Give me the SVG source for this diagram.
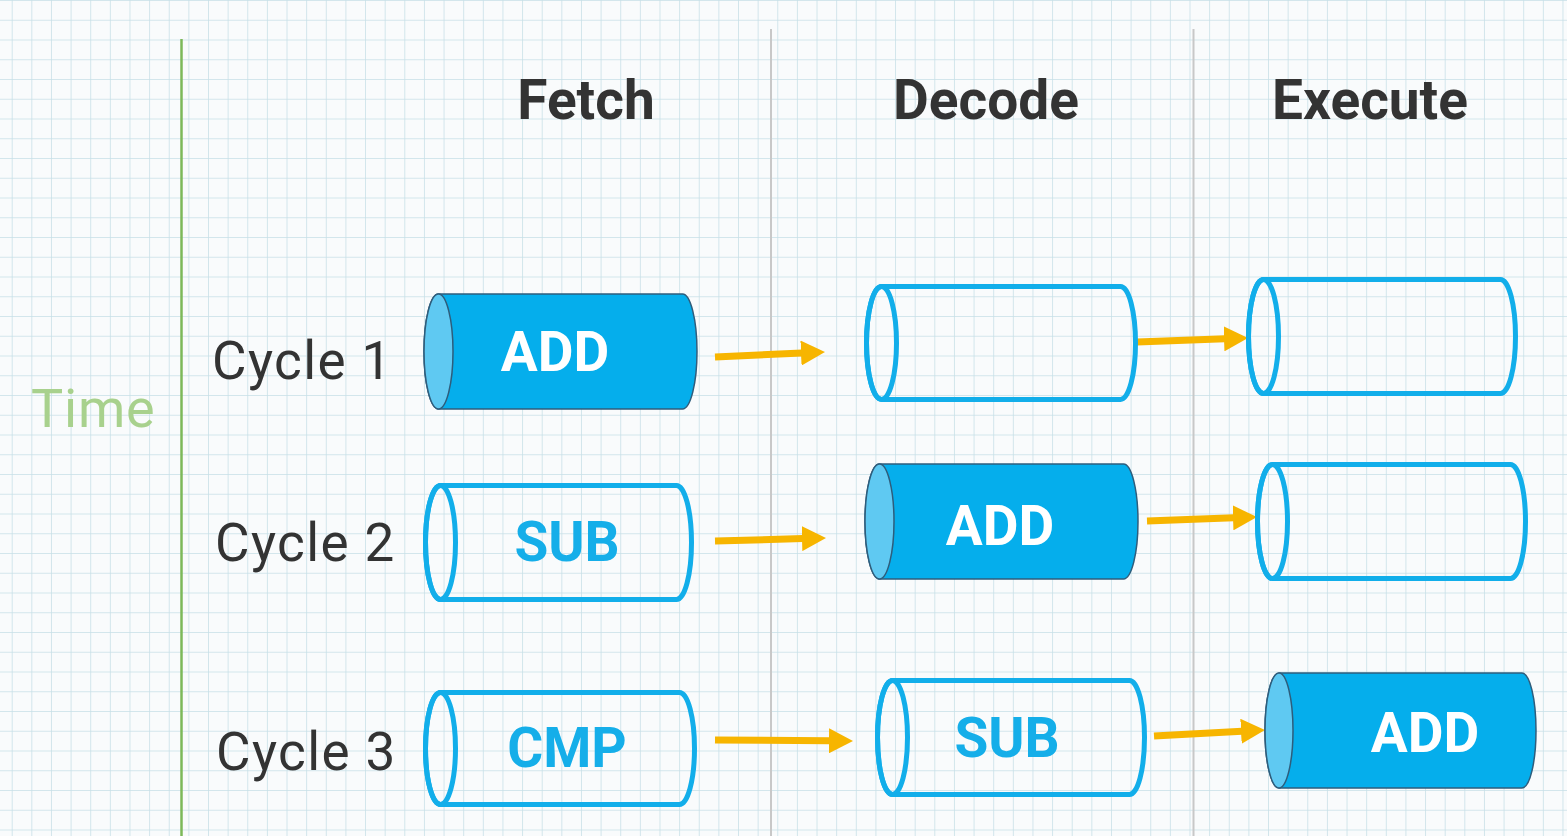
<svg xmlns="http://www.w3.org/2000/svg" width="1567" height="836" viewBox="0 0 1567 836">
<defs>
<pattern id="grid" x="11.7" y="0" width="19.63" height="19.75" patternUnits="userSpaceOnUse">
<path d="M0,0 V19.75 M0,0 H19.63" fill="none" stroke="#c6dfe7" stroke-width="1.5"/>
</pattern>
<marker id="ah" viewBox="0 0 24 25" refX="1" refY="12.5" markerWidth="24" markerHeight="25" markerUnits="userSpaceOnUse" orient="auto">
<path d="M0,0 L24,12.5 L0,25 Z" fill="#f7b500"/>
</marker>
<style>
.hdr{font-family:Roboto,"Liberation Sans",sans-serif;font-weight:700;font-size:55px;fill:#333;text-anchor:middle}
.cyc{font-family:Roboto,"Liberation Sans",sans-serif;font-size:53px;letter-spacing:1.4px;fill:#333}
.time{font-family:Roboto,"Liberation Sans",sans-serif;font-size:54px;letter-spacing:0.8px;fill:#a8d18d}
.fillbody{fill:#05aeec;stroke:#2e5d7c;stroke-width:1.5}
.fillface{fill:#5fc9f2;stroke:#2e5d7c;stroke-width:1.5}
.outl{fill:none;stroke:#12aeea;stroke-width:5;stroke-linejoin:round}
.wt{font-family:Roboto,"Liberation Sans",sans-serif;font-weight:700;font-size:55px;fill:#fff;text-anchor:middle}
.bt{font-family:Roboto,"Liberation Sans",sans-serif;font-weight:700;font-size:55px;fill:#15aee9;text-anchor:middle}
.arr{stroke:#f7b500;stroke-width:7;fill:none;marker-end:url(#ah)}
</style>
</defs>
<rect width="1567" height="836" fill="#f9fbfc"/>
<rect width="1567" height="836" fill="url(#grid)"/>
<g id="axes">
<line x1="181.5" y1="39" x2="181.5" y2="836" stroke="#7cb95a" stroke-width="2.5"/>
<line x1="771" y1="29" x2="771" y2="836" stroke="#c8c8c8" stroke-width="2"/>
<line x1="1193.5" y1="29" x2="1193.5" y2="836" stroke="#c8c8c8" stroke-width="2"/>
</g>
<g id="headers">
<text class="hdr" x="586" y="119">Fetch</text>
<text class="hdr" x="986" y="119">Decode</text>
<text class="hdr" x="1370" y="119">Execute</text>
</g>
<g id="labels">
<text class="time" x="31" y="427">Time</text>
<text class="cyc" x="212" y="379">Cycle 1</text>
<text class="cyc" x="215" y="561">Cycle 2</text>
<text class="cyc" x="216" y="770">Cycle 3</text>
</g>
<g id="connectors">
<line class="arr" x1="715" y1="357" x2="802" y2="353"/>
<line class="arr" x1="1137" y1="342" x2="1225" y2="338.8"/>
<line class="arr" x1="715" y1="541" x2="803" y2="538.6"/>
<line class="arr" x1="1147" y1="521" x2="1234" y2="517.8"/>
<line class="arr" x1="715" y1="740" x2="830" y2="740.8"/>
<line class="arr" x1="1154" y1="736" x2="1242" y2="731.2"/>
</g>
<g id="c1-fetch">
<path class="fillbody" d="M438.5,294 H682.5 A14.5,57.5 0 0 1 682.5,409 H438.5 A14.5,57.5 0 0 1 438.5,294 Z"/>
<ellipse class="fillface" cx="438.5" cy="351.5" rx="14.5" ry="57.5"/>
<text class="wt" x="555" y="371">ADD</text>
</g>
<g id="c1-decode">
<path class="outl" d="M881.5,286.5 H1120.5 A15,56.5 0 0 1 1120.5,399.5 H881.5 A15,56.5 0 0 1 881.5,286.5 Z"/>
<ellipse class="outl" cx="881.5" cy="343" rx="15" ry="56.5"/>
</g>
<g id="c1-execute">
<path class="outl" d="M1263.5,279.5 H1500.5 A15,57 0 0 1 1500.5,393.5 H1263.5 A15,57 0 0 1 1263.5,279.5 Z"/>
<ellipse class="outl" cx="1263.5" cy="336.5" rx="15" ry="57"/>
</g>
<g id="c2-fetch">
<path class="outl" d="M440.5,485.5 H676.5 A15,57 0 0 1 676.5,599.5 H440.5 A15,57 0 0 1 440.5,485.5 Z"/>
<ellipse class="outl" cx="440.5" cy="542.5" rx="15" ry="57"/>
<text class="bt" x="567" y="561">SUB</text>
</g>
<g id="c2-decode">
<path class="fillbody" d="M879.5,464 H1123.5 A14.5,57.5 0 0 1 1123.5,579 H879.5 A14.5,57.5 0 0 1 879.5,464 Z"/>
<ellipse class="fillface" cx="879.5" cy="521.5" rx="14.5" ry="57.5"/>
<text class="wt" x="1000" y="545">ADD</text>
</g>
<g id="c2-execute">
<path class="outl" d="M1272.5,464.5 H1510.5 A15,57 0 0 1 1510.5,578.5 H1272.5 A15,57 0 0 1 1272.5,464.5 Z"/>
<ellipse class="outl" cx="1272.5" cy="521.5" rx="15" ry="57"/>
</g>
<g id="c3-fetch">
<path class="outl" d="M440.5,692.5 H679.5 A15,56 0 0 1 679.5,804.5 H440.5 A15,56 0 0 1 440.5,692.5 Z"/>
<ellipse class="outl" cx="440.5" cy="748.5" rx="15" ry="56"/>
<text class="bt" x="567" y="767">CMP</text>
</g>
<g id="c3-decode">
<path class="outl" d="M892.5,680.5 H1129.5 A15,57 0 0 1 1129.5,794.5 H892.5 A15,57 0 0 1 892.5,680.5 Z"/>
<ellipse class="outl" cx="892.5" cy="737.5" rx="15" ry="57"/>
<text class="bt" x="1007" y="757">SUB</text>
</g>
<g id="c3-execute">
<path class="fillbody" d="M1279,673 H1522 A14,57.5 0 0 1 1522,788 H1279 A14,57.5 0 0 1 1279,673 Z"/>
<ellipse class="fillface" cx="1279" cy="730.5" rx="14" ry="57.5"/>
<text class="wt" x="1425" y="752">ADD</text>
</g>
</svg>
